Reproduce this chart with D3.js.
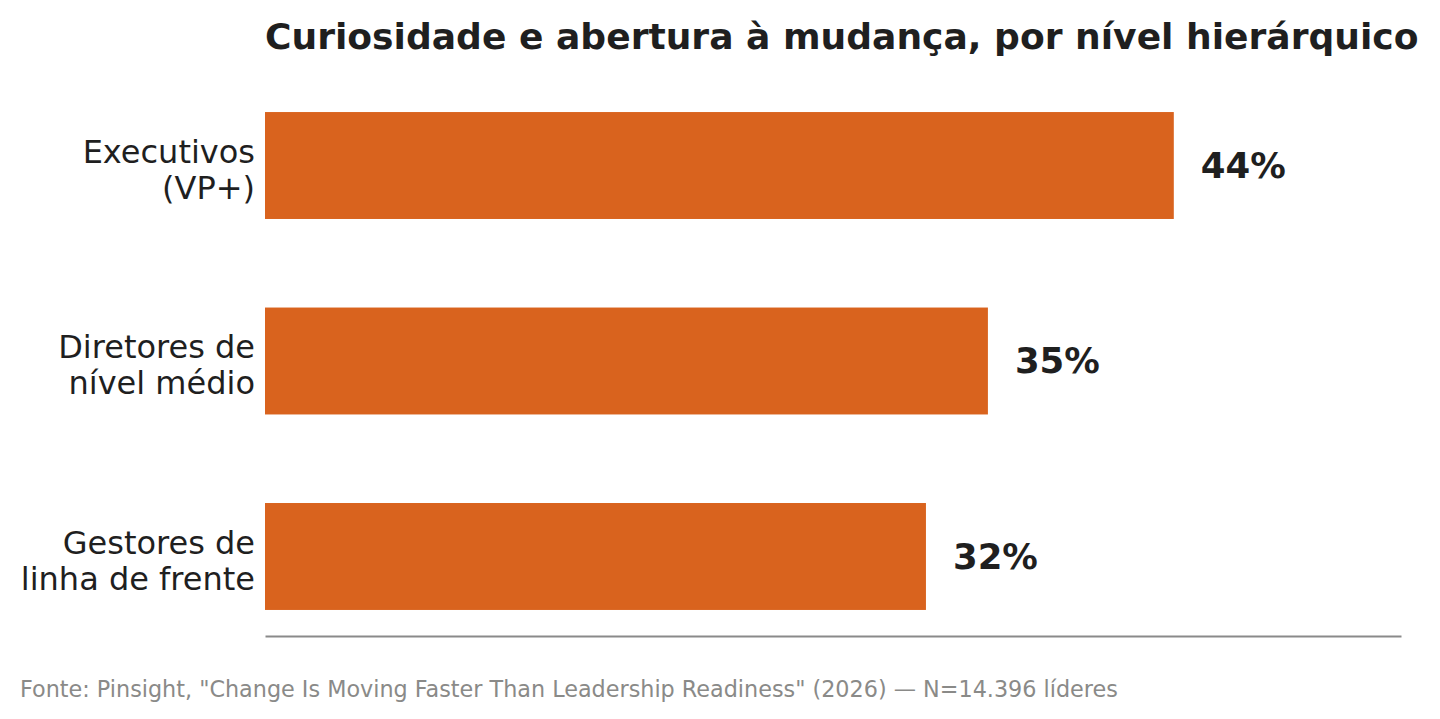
<!DOCTYPE html>
<html>
<head>
<meta charset="utf-8">
<script src="https://cdn.jsdelivr.net/npm/d3@7"></script>
<style>
  html, body { margin: 0; padding: 0; background: #fff; }
  svg { display: block; font-family: "DejaVu Sans", sans-serif; }
</style>
</head>
<body>
<svg id="chart" width="1440" height="719"></svg>
<script>
const categories = [
    ['Executivos', '(VP+)'],
    ['Diretores de', 'nível médio'],
    ['Gestores de', 'linha de frente']
];
const values = [44, 35, 32];
const valueLabels = ['44%', '35%', '32%'];

const TITLE = 'Curiosidade e abertura à mudança, por nível hierárquico';
const SOURCE = 'Fonte: Pinsight, "Change Is Moving Faster Than Leadership Readiness" (2026) — N=14.396 líderes';

const COLORS = {
    bar: '#D9631E',
    text: '#1f1f1f',
    axis: '#8a8a8a',
    source: '#8a8a88'
}

const margin = { left: 265, right: 39, top: 92.5, bottom: 83 };
const width = 1440, height = 719;

const svg = d3.select('#chart');

const x = d3.scaleLinear()
    .domain([0, 55])
    .range([margin.left, width - margin.right]);

const y = d3.scaleBand()
    .domain(d3.range(categories.length))
    .range([margin.top, 629.5])
    .paddingInner(0.453)
    .paddingOuter(0.1);

svg.append('text')
    .attr('x', margin.left)
    .attr('y', 49)
    .attr('font-size', 36.1)
    .attr('font-weight', 'bold')
    .attr('fill', COLORS.text)
    .text(TITLE);

svg.selectAll('.bar')
    .data(values)
    .enter()
    .append('rect')
    .attr('class', 'bar')
    .attr('x', x(0))
    .attr('y', (d, i) => y(i))
    .attr('width', (d) => x(d) - x(0))
    .attr('height', y.bandwidth())
    .attr('fill', COLORS.bar);

svg.selectAll('.valueLabel')
    .data(values)
    .enter()
    .append('text')
    .attr('class', 'valueLabel')
    .attr('x', (d) => x(d) + 27)
    .attr('y', (d, i) => y(i) + y.bandwidth() / 2)
    .attr('dy', '0.35em')
    .attr('font-size', 35.5)
    .attr('font-weight', 'bold')
    .attr('fill', COLORS.text)
    .text((d, i) => valueLabels[i]);

var catLabels = svg.selectAll('.catLabel')
    .data(categories)
    .enter()
    .append('text')
    .attr('class', 'catLabel')
    .attr('text-anchor', 'end')
    .attr('font-size', 32)
    .attr('fill', COLORS.text)
    .attr('transform', (d, i) => 'translate(' + (margin.left - 10) + ',' + (y(i) + y.bandwidth() / 2 + 4) + ')');

catLabels.selectAll('tspan')
    .data((d) => d)
    .enter()
    .append('tspan')
    .attr('x', 0)
    .attr('y', (d, j) => (j - 0.5) * 36)
    .attr('dy', '0.35em')
    .text((d) => d);

var axis = svg.append('g')
    .attr('transform', 'translate(0,' + (height - margin.bottom) + ')')
    .call(d3.axisBottom(x).tickValues([]).tickSizeOuter(0));
axis.select('.domain')
    .attr('stroke', COLORS.axis)
    .attr('stroke-width', 2);

svg.append('text')
    .attr('x', 20)
    .attr('y', 697)
    .attr('font-size', 22.3)
    .attr('fill', COLORS.source)
    .text(SOURCE);
</script>
</body>
</html>
